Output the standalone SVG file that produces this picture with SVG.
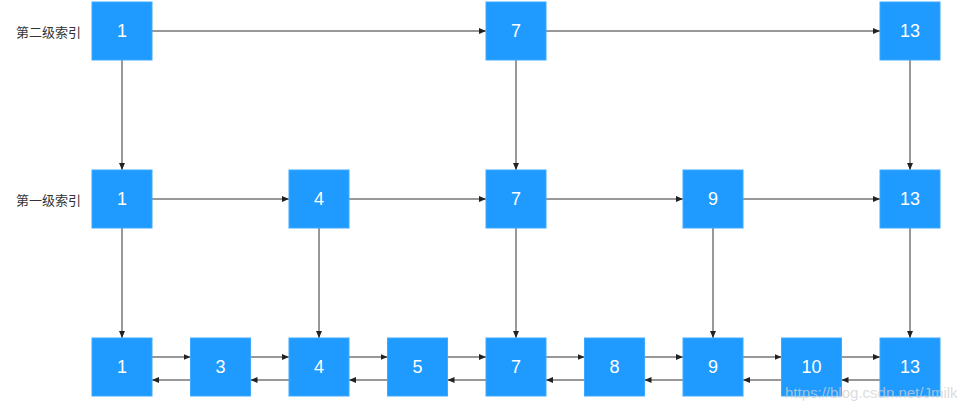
<svg xmlns="http://www.w3.org/2000/svg" width="958" height="407" viewBox="0 0 958 407">
<defs>
<style>
.box{fill:#1F9BFF;stroke:#3FA9FF;stroke-width:1}
.num{fill:#ffffff;font-family:"Liberation Sans",Arial,sans-serif;font-size:18px;text-anchor:middle;dominant-baseline:central}
.lbl{fill:#333333;font-family:"Noto Sans CJK SC","Noto Sans",sans-serif;font-size:13px;dominant-baseline:central}
.c{stroke:#333333;stroke-width:1;fill:none;marker-end:url(#ah)}
.wm{fill:#cfcfcf;fill-opacity:0.75;font-family:"Liberation Sans",Arial,sans-serif;font-size:15px}
</style>
<marker id="ah" markerWidth="8" markerHeight="8" refX="7" refY="4" orient="auto" markerUnits="userSpaceOnUse">
<path d="M0,1 L7,4 L0,7 Z" fill="#222222"/>
</marker>
</defs>
<rect width="958" height="407" fill="#ffffff"/>
<text class="lbl" x="16" y="31">第二级索引</text>
<text class="lbl" x="16" y="199">第一级索引</text>
<g id="connectors">
<!-- top row horizontal -->
<path class="c" d="M152,31 H486"/>
<path class="c" d="M546,31 H880"/>
<!-- top to middle -->
<path class="c" d="M122,60 V170"/>
<path class="c" d="M516,60 V170"/>
<path class="c" d="M910,60 V170"/>
<!-- middle row horizontal -->
<path class="c" d="M152,199 H289"/>
<path class="c" d="M349,199 H486"/>
<path class="c" d="M546,199 H683"/>
<path class="c" d="M743,199 H880"/>
<!-- middle to bottom -->
<path class="c" d="M122,228 V338"/>
<path class="c" d="M319,228 V338"/>
<path class="c" d="M516,228 V338"/>
<path class="c" d="M713,228 V338"/>
<path class="c" d="M910,228 V338"/>
<!-- bottom forward -->
<path class="c" d="M152,357 H190.5"/>
<path class="c" d="M250.5,357 H289"/>
<path class="c" d="M349,357 H387.5"/>
<path class="c" d="M447.5,357 H486"/>
<path class="c" d="M546,357 H584.5"/>
<path class="c" d="M644.5,357 H683"/>
<path class="c" d="M743,357 H781.5"/>
<path class="c" d="M841.5,357 H880"/>
<!-- bottom backward -->
<path class="c" d="M190.5,380 H152"/>
<path class="c" d="M289,380 H250.5"/>
<path class="c" d="M387.5,380 H349"/>
<path class="c" d="M486,380 H447.5"/>
<path class="c" d="M584.5,380 H546"/>
<path class="c" d="M683,380 H644.5"/>
<path class="c" d="M781.5,380 H743"/>
<path class="c" d="M880,380 H841.5"/>
</g>
<g id="l2-1"><rect class="box" x="92" y="2" width="60" height="58"/><text class="num" x="122" y="31">1</text></g>
<g id="l2-7"><rect class="box" x="486" y="2" width="60" height="58"/><text class="num" x="516" y="31">7</text></g>
<g id="l2-13"><rect class="box" x="880" y="2" width="60" height="58"/><text class="num" x="910" y="31">13</text></g>
<g id="l1-1"><rect class="box" x="92" y="170" width="60" height="58"/><text class="num" x="122" y="199">1</text></g>
<g id="l1-4"><rect class="box" x="289" y="170" width="60" height="58"/><text class="num" x="319" y="199">4</text></g>
<g id="l1-7"><rect class="box" x="486" y="170" width="60" height="58"/><text class="num" x="516" y="199">7</text></g>
<g id="l1-9"><rect class="box" x="683" y="170" width="60" height="58"/><text class="num" x="713" y="199">9</text></g>
<g id="l1-13"><rect class="box" x="880" y="170" width="60" height="58"/><text class="num" x="910" y="199">13</text></g>
<g id="b-1"><rect class="box" x="92" y="338" width="60" height="58"/><text class="num" x="122" y="367">1</text></g>
<g id="b-3"><rect class="box" x="190.5" y="338" width="60" height="58"/><text class="num" x="220.5" y="367">3</text></g>
<g id="b-4"><rect class="box" x="289" y="338" width="60" height="58"/><text class="num" x="319" y="367">4</text></g>
<g id="b-5"><rect class="box" x="387.5" y="338" width="60" height="58"/><text class="num" x="417.5" y="367">5</text></g>
<g id="b-7"><rect class="box" x="486" y="338" width="60" height="58"/><text class="num" x="516" y="367">7</text></g>
<g id="b-8"><rect class="box" x="584.5" y="338" width="60" height="58"/><text class="num" x="614.5" y="367">8</text></g>
<g id="b-9"><rect class="box" x="683" y="338" width="60" height="58"/><text class="num" x="713" y="367">9</text></g>
<g id="b-10"><rect class="box" x="781.5" y="338" width="60" height="58"/><text class="num" x="811.5" y="367">10</text></g>
<g id="b-13"><rect class="box" x="880" y="338" width="60" height="58"/><text class="num" x="910" y="367">13</text></g>
<text class="wm" x="785" y="398">https://blog.csdn.net/Jmilk</text>
</svg>
